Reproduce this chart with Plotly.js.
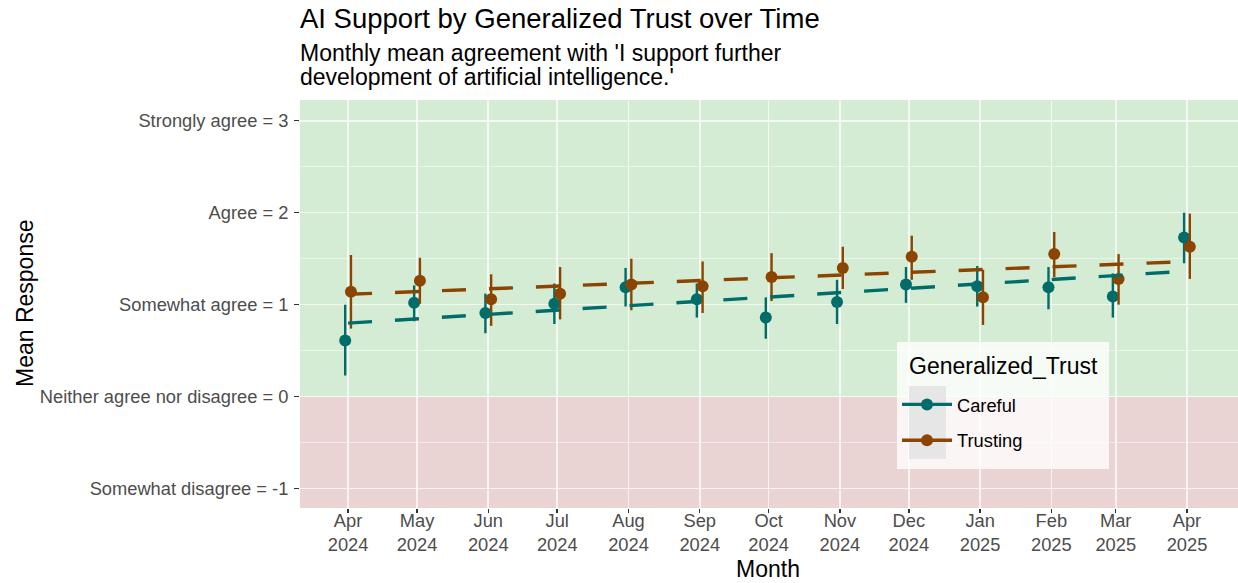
<!DOCTYPE html>
<html>
<head>
<meta charset="utf-8">
<script src="https://cdn.plot.ly/plotly-3.0.1.min.js"></script>
<style>html,body{margin:0;padding:0;background:#fff;}#chart{width:1238px;height:583px;}</style>
</head>
<body>
<div id="chart"></div>
<script>
// ---- data ----
const months = ['2024-04-01','2024-05-01','2024-06-01','2024-07-01','2024-08-01','2024-09-01','2024-10-01','2024-11-01','2024-12-01','2025-01-01','2025-02-01','2025-03-01','2025-04-01'];
const monthLabels = ['Apr<br>2024','May<br>2024','Jun<br>2024','Jul<br>2024','Aug<br>2024','Sep<br>2024','Oct<br>2024','Nov<br>2024','Dec<br>2024','Jan<br>2025','Feb<br>2025','Mar<br>2025','Apr<br>2025'];
const carefulMean = [0.61, 1.02, 0.91, 1.01, 1.19, 1.06, 0.86, 1.03, 1.22, 1.20, 1.19, 1.09, 1.73];
const carefulLow  = [0.23, 0.82, 0.69, 0.79, 0.98, 0.86, 0.63, 0.79, 1.02, 0.98, 0.95, 0.86, 1.45];
const carefulHigh = [1.00, 1.21, 1.12, 1.23, 1.40, 1.23, 1.08, 1.27, 1.41, 1.42, 1.41, 1.34, 2.00];
const trustingMean = [1.14, 1.26, 1.06, 1.12, 1.22, 1.20, 1.30, 1.40, 1.52, 1.08, 1.55, 1.28, 1.63];
const trustingLow  = [0.74, 1.01, 0.77, 0.84, 0.94, 0.91, 1.04, 1.17, 1.27, 0.78, 1.30, 1.00, 1.28];
const trustingHigh = [1.54, 1.51, 1.33, 1.41, 1.50, 1.47, 1.56, 1.63, 1.75, 1.38, 1.79, 1.55, 1.99];
const trendMonths = ['2024-04-01','2025-04-01'];
const carefulTrend = [0.80, 1.365];
const trustingTrend = [1.113, 1.469];
const yTickVals = [-1, 0, 1, 2, 3];
const yTickText = ['Somewhat disagree = -1','Neither agree nor disagree = 0','Somewhat agree = 1','Agree = 2','Strongly agree = 3'];
const groups = ['Careful','Trusting'];

// ---- styling ----
const FONT = 'Liberation Sans, Arial, Helvetica, sans-serif';
const COL = {Careful:'#006d6b', Trusting:'#8b4500'};
const DODGE_DAYS = 1.25;
const yRange = [-1.21, 3.225];
const xRange = ['2024-03-11 02:00','2025-04-23 05:00'];

function shiftDate(s, days){
  const d = new Date(s + 'T00:00:00Z');
  const t = new Date(d.getTime() + days*86400000);
  const p = n => String(n).padStart(2,'0');
  return t.getUTCFullYear()+'-'+p(t.getUTCMonth()+1)+'-'+p(t.getUTCDate())+' '+p(t.getUTCHours())+':'+p(t.getUTCMinutes())+':'+p(t.getUTCSeconds());
}

function pointTrace(name, mean, lo, hi, dodge){
  return {
    type:'scatter', mode:'markers', name:name, showlegend:false,
    x: months.map(m => shiftDate(m, dodge)), y: mean,
    marker:{color:COL[name], size:12},
    error_y:{type:'data', symmetric:false,
      array: hi.map((h,i)=>h-mean[i]), arrayminus: mean.map((m,i)=>m-lo[i]),
      color:COL[name], thickness:2.4, width:0},
    hoverinfo:'x+y'
  };
}
function trendTrace(name, vals){
  return {type:'scatter', mode:'lines', name:name, showlegend:false,
    x: trendMonths, y: vals, line:{color:COL[name], width:3.4, dash:'24px,23px'}, hoverinfo:'skip'};
}
function legendTrace(name, i){
  return {type:'scatter', mode:'lines+markers', name:name, legendgroup:'g'+i, showlegend:true,
    x:[null], y:[null], line:{color:COL[name], width:3.4}, marker:{color:COL[name], size:12}};
}

const data = [
  pointTrace('Careful', carefulMean, carefulLow, carefulHigh, -DODGE_DAYS),
  pointTrace('Trusting', trustingMean, trustingLow, trustingHigh, DODGE_DAYS),
  trendTrace('Careful', carefulTrend),
  trendTrace('Trusting', trustingTrend),
  legendTrace('Careful', 0),
  legendTrace('Trusting', 1)
];

const W = 1238, H = 583, L = 300, R = 0, T = 100, B = 75;
const pw = W - L - R, ph = H - T - B;
const px = x => (x - L)/pw;          // pixel -> paper x
const py = y => (H - B - y)/ph;      // pixel -> paper y

const tickFont = {size:18.3, color:'#4d4d4d'};

const layout = {
  width:W, height:H,
  margin:{l:L, r:R, t:T, b:B, pad:0},
  paper_bgcolor:'#ffffff', plot_bgcolor:'rgba(0,0,0,0)',
  font:{family:FONT, color:'#4d4d4d'},
  xaxis:{type:'date', range:xRange,
    tickmode:'array', tickvals:months, ticktext:monthLabels,
    tickfont:tickFont, ticks:'outside', ticklen:4, tickwidth:1.5, tickcolor:'#333333',
    ticklabelstandoff:-8,
    showgrid:true, gridcolor:'rgba(255,255,255,0.7)', gridwidth:1.6, zeroline:false, showline:false, fixedrange:true},
  yaxis:{range:yRange, tickmode:'array', tickvals:yTickVals, ticktext:yTickText,
    tickfont:tickFont, ticks:'outside', ticklen:5, tickwidth:1.5, tickcolor:'#333333',
    ticklabelstandoff:2,
    showgrid:true, gridcolor:'rgba(255,255,255,0.7)', gridwidth:1.6, zeroline:false, showline:false,
    minor:{tickmode:'array', tickvals:[-0.5,0.5,1.5,2.5], showgrid:true, gridcolor:'rgba(255,255,255,0.6)', gridwidth:0.8, ticks:''},
    fixedrange:true},
  shapes:[
    {type:'rect', xref:'paper', yref:'y', x0:0, x1:1, y0:0, y1:yRange[1], fillcolor:'#d5ecd4', line:{width:0}, layer:'below'},
    {type:'rect', xref:'paper', yref:'y', x0:0, x1:1, y0:yRange[0], y1:0, fillcolor:'#ead3d3', line:{width:0}, layer:'below'},
    {type:'rect', xref:'paper', yref:'paper', x0:px(897), x1:px(1109), y0:py(469), y1:py(342), fillcolor:'rgba(255,255,255,0.78)', line:{width:0}, layer:'above'},
    {type:'rect', xref:'paper', yref:'paper', x0:px(909), x1:px(946), y0:py(459), y1:py(386), fillcolor:'#e6e6e6', line:{width:0}, layer:'above'}
  ],
  legend:{x:px(897), y:py(386), xanchor:'left', yanchor:'top', bgcolor:'rgba(0,0,0,0)', borderwidth:0,
    font:{size:18.3, color:'#000000'}, traceorder:'grouped', tracegroupgap:9, itemwidth:50},
  annotations:[
    {text:'AI Support by Generalized Trust over Time', xref:'paper', yref:'paper', x:px(298), y:py(18.4), xanchor:'left', yanchor:'middle', showarrow:false, font:{size:27.5, color:'#000000'}},
    {text:"Monthly mean agreement with 'I support further", xref:'paper', yref:'paper', x:px(298), y:py(53), xanchor:'left', yanchor:'middle', showarrow:false, font:{size:23, color:'#000000'}},
    {text:"development of artificial intelligence.'", xref:'paper', yref:'paper', x:px(298), y:py(77), xanchor:'left', yanchor:'middle', showarrow:false, font:{size:23, color:'#000000'}},
    {text:'Generalized_Trust', xref:'paper', yref:'paper', x:px(907), y:py(366), xanchor:'left', yanchor:'middle', showarrow:false, font:{size:23, color:'#000000'}},
    {text:'Mean Response', xref:'paper', yref:'paper', x:px(25), y:py(303), xanchor:'center', yanchor:'middle', textangle:-90, showarrow:false, font:{size:23, color:'#000000'}},
    {text:'Month', xref:'paper', yref:'paper', x:px(768), y:py(569), xanchor:'center', yanchor:'middle', showarrow:false, font:{size:23, color:'#000000'}}
  ]
};

Plotly.newPlot('chart', data, layout, {displayModeBar:false, staticPlot:true});
</script>
</body>
</html>
